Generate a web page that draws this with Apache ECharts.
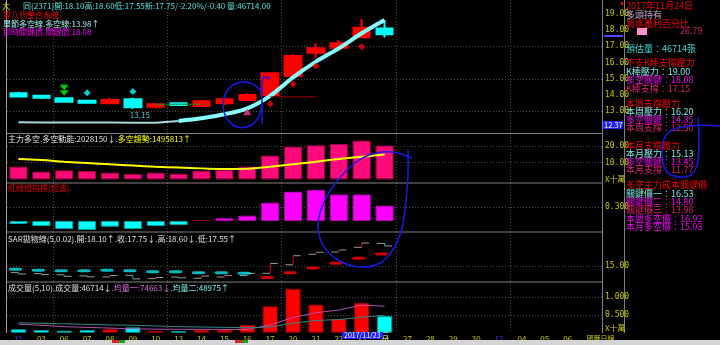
<!DOCTYPE html>
<html><head><meta charset="utf-8">
<script src="https://cdn.jsdelivr.net/npm/echarts@6/dist/echarts.min.js"></script>
<style>html,body{margin:0;padding:0;background:#000;}#c{width:720px;height:345px;}</style>
</head><body><div id="c"></div>
<script>
// ---------- data ----------
const categories = ['11','03','06','07','08','09','10','13','14','15','16','17','20','21','22','23','24','27','28','29','30','12','04','05','06','國曆日線'];
// [open, close, low, high]
const candles = [
 [14.10,13.90,13.90,14.20],
 [13.96,13.83,13.75,13.96],
 [13.80,13.59,13.59,13.86],
 [13.65,13.52,13.50,13.68],
 [13.49,13.69,13.49,13.83],
 [13.73,13.24,13.15,13.83],
 [13.28,13.43,13.18,13.43],
 [13.49,13.38,13.34,13.49],
 [13.32,13.61,13.32,13.69],
 [13.49,13.73,13.38,13.86],
 [13.69,14.00,13.63,14.10],
 [14.00,15.34,14.00,15.38],
 [15.17,16.41,15.05,16.53],
 [16.61,16.88,16.26,17.19],
 [16.92,17.19,16.73,17.40],
 [17.56,18.15,17.56,18.69],
 [18.10,17.75,17.55,18.60]
];
const trendLine = [12.31,12.30,12.30,12.30,12.30,12.29,12.29,12.40,12.56,12.81,13.18,13.95,15.09,16.06,16.88,17.81,18.63];
const keyRedLine = [null,null,null,null,null,null,null,null,null,null,null,13.88,13.88,13.88];
const keyGreenLine = [null,null,null,null,null,null,13.43,13.43,13.43];
const buySignal = [null,null,14.30];
const cyanMarks = [null,null,null,14.14,null,14.22];
const pinkMarks = [null,null,null,null,null,null,null,null,null,null,12.97];
const redMarks = [null,null,null,null,null,null,null,null,null,null,null,13.44,14.68,15.79,null,16.98];
const lowestPrice = 13.15, lowestIndex = 5;

const mainForce = [7.6,4.6,5.4,5.0,4.0,3.2,4.0,3.4,5.2,5.6,7.6,14.2,19.6,20.4,21.2,23.2,20.28];
const forceTrend = [12.2,11.6,10.6,9.8,9.0,8.3,7.6,7.1,6.6,6.2,6.4,7.6,9.0,10.6,12.2,13.6,14.96];
const trafficLight = [-0.066,-0.11,-0.175,-0.197,-0.125,-0.175,-0.11,-0.088,0.02,0.059,0.116,0.40,0.64,0.68,0.58,0.58,0.335];
const sar = [14.55,14.41,14.36,14.36,14.41,14.36,14.22,14.22,14.08,14.08,14.00,13.42,14.08,14.73,15.37,16.05,16.64];
const sarSide = ['s','s','s','s','s','s','s','s','s','s','s','l','l','l','l','l','l'];
const volume = [9600,7600,5600,7600,9600,15000,5600,4800,7600,7600,22000,74500,124000,79000,39000,84500,46714];
const volMA5 = [24000,21000,17000,15000,13000,11000,10000,9500,9500,9000,9000,22000,43000,56500,64000,78000,74663];
const volMA10 = [28000,26500,25000,23500,22000,21000,19000,17000,16000,15000,14000,16000,27000,34500,37000,44000,48975];

const priceTicks = [13,14,15,16,17,18,19];
const forceTicks = [10,20];
const lightTicks = [0.3];
const sarTicks = [15];
const volTicks = [50000,100000];

// ---------- chart ----------
const FONT = '"Noto Sans CJK TC","Noto Sans",sans-serif';
const AX = '#c8c800';
const chart = echarts.init(document.getElementById('c'));
const L = 7, W = 595;
const grids = [
  {left:L, width:W, top:0, height:133.5},
  {left:L, width:W, top:134, height:49},
  {left:L, width:W, top:183, height:49},
  {left:L, width:W, top:232, height:50},
  {left:L, width:W, top:282, height:50.7}
].map(g => Object.assign(g, {outerBoundsMode:'none', containLabel:false}));

const dotted = {show:true, lineStyle:{color:'#4a4a4a', type:[1,2], width:1}};
const xAxes = grids.map((g,i) => ({
  type:'category', gridIndex:i, data:categories, boundaryGap:true,
  axisLine:{show:false}, axisTick:{show:false},
  splitLine:{show:true, interval:(idx)=>idx%5===2, lineStyle:{color:'#4a4a4a', type:[1,2]}},
  axisLabel: i===4 ? {
    show:true, interval:0, margin:2, fontSize:8, fontFamily:FONT,
    color:(v)=> (v==='11'||v==='12') ? '#3838ff' : AX,
    formatter:(v)=> v==='國曆日線' ? '{e|'+v+'}' : v,
    rich:{e:{color:AX, fontSize:7, fontFamily:FONT, padding:[0,0,0,20]}}
  } : {show:false}
}));
function yax(i, min, max, ticks, fmt){
  return {type:'value', gridIndex:i, position:'right', min, max,
    axisLine:{show:false},
    axisTick:{show:false, customValues:ticks},
    axisLabel:{show:true, customValues:ticks, margin:3, color:AX, fontSize:8, fontFamily:'"DejaVu Sans Mono",monospace', formatter:fmt},
    splitLine:dotted};
}
const yAxes = [
  yax(0, 11.623, 19.864, priceTicks, v=>v.toFixed(2)),
  yax(1, -2.16, 27.19, forceTicks, v=>v.toFixed(2)),
  yax(2, -0.2407, 0.8315, lightTicks, v=>v.toFixed(3)),
  yax(3, 12.81, 19.66, sarTicks, v=>v.toFixed(2)),
  yax(4, 0, 143200, volTicks, v=>(v/100000).toFixed(3))
];
yAxes[0].axisTick.customValues = [13,15,17];

const up = candles.map(d => d[1] >= d[0]);

const series = [
  {type:'candlestick', xAxisIndex:0, yAxisIndex:0, data:candles, barWidth:17,
   itemStyle:{color:'#ff0000', color0:'#00ffff', borderColor:'#ff0000', borderColor0:'#00ffff', borderWidth:2},
   markPoint:{symbol:'circle', symbolSize:0, silent:true,
     data:[{coord:[lowestIndex, lowestPrice], value:lowestPrice}],
     label:{show:true, formatter:lowestPrice.toFixed(2), color:'#40c8c8', fontSize:8, fontFamily:FONT, offset:[7,6]}}},
  {type:'line', xAxisIndex:0, yAxisIndex:0, data:trendLine.map((v,i)=> i<=7 ? v : null), showSymbol:false,
   lineStyle:{color:'#a8d8d8', width:2}, silent:true, z:3},
  {type:'line', xAxisIndex:0, yAxisIndex:0, data:trendLine.map((v,i)=> i>=7 ? v : null), showSymbol:false, smooth:0.3,
   lineStyle:{color:'#88ffff', width:4}, silent:true, z:3},
  {type:'line', xAxisIndex:0, yAxisIndex:0, data:keyRedLine, showSymbol:false, lineStyle:{color:'#a00000', width:1}, silent:true},
  {type:'line', xAxisIndex:0, yAxisIndex:0, data:keyGreenLine, showSymbol:false, lineStyle:{color:'#208020', width:1}, silent:true},
  {type:'scatter', xAxisIndex:0, yAxisIndex:0, data:buySignal, symbol:'path://M0,0L10,0L5,5Z M0,5L10,5L5,10Z', symbolSize:[9,11], itemStyle:{color:'#00ff00'}, z:5},
  {type:'scatter', xAxisIndex:0, yAxisIndex:0, data:cyanMarks, symbol:'diamond', symbolSize:7, itemStyle:{color:'#00ffff'}, z:5},
  {type:'scatter', xAxisIndex:0, yAxisIndex:0, data:pinkMarks, symbol:'triangle', symbolSize:[8,7], itemStyle:{color:'#ff3399'}, z:5},
  {type:'scatter', xAxisIndex:0, yAxisIndex:0, data:redMarks, symbol:'diamond', symbolSize:7, itemStyle:{color:'#ff0000'}, z:5},

  {type:'bar', xAxisIndex:1, yAxisIndex:1, data:mainForce, barWidth:18, itemStyle:{color:'#ff0a7a', borderColor:'#a00048', borderWidth:1}},
  {type:'line', xAxisIndex:1, yAxisIndex:1, data:forceTrend, showSymbol:false, smooth:0.4, lineStyle:{color:'#ffff00', width:2}},

  {type:'bar', xAxisIndex:2, yAxisIndex:2, data:trafficLight.map(v=>({value:v, itemStyle:{color: v<0 ? '#00ffff' : (v<0.03 ? '#900000' : '#ff00ff'), borderColor: v<0 ? '#00a0a0' : (v<0.03 ? '#900000' : '#b000b0')}})), barWidth:18, itemStyle:{borderWidth:1}},

  {type:'custom', xAxisIndex:3, yAxisIndex:3, data:candles.map((d,i)=>[i,d[0],d[1]]),
   renderItem:function(params, api){
     const i = api.value(0), o = api.value(1), c = api.value(2);
     const po = api.coord([i,o]), pc = api.coord([i,c]);
     const w = api.size([1,0])[0]*0.33;
     const col = c >= o ? '#e00000' : '#00c8c8';
     return {type:'group', children:[
       {type:'line', shape:{x1:po[0]-w, y1:po[1], x2:po[0], y2:po[1]}, style:{stroke:'#9a9a9a', lineWidth:1}},
       {type:'line', shape:{x1:pc[0], y1:pc[1], x2:pc[0]+w, y2:pc[1]}, style:{stroke:'#9a9a9a', lineWidth:1}},
       {type:'line', shape:{x1:po[0], y1:po[1], x2:pc[0], y2:pc[1]}, style:{stroke:col, lineWidth:1}}
     ]};
   }},
  {type:'scatter', xAxisIndex:3, yAxisIndex:3, data:sar.map((v,i)=>({value:v, itemStyle:{color: sarSide[i]==='s' ? '#00e8f0' : '#ff0000'}})),
   symbol:'roundRect', symbolSize:[13,3], symbolOffset:[-3,0]},

  {type:'bar', xAxisIndex:4, yAxisIndex:4, data:volume.map((v,i)=>({value:v, itemStyle:{color: up[i] ? '#ff0000' : '#00ffff', borderColor: up[i] ? '#a00000' : '#00a0a0'}})), barWidth:15, itemStyle:{borderWidth:1}},
  {type:'line', xAxisIndex:4, yAxisIndex:4, data:volMA5, showSymbol:false, lineStyle:{color:'#b050b0', width:1}},
  {type:'line', xAxisIndex:4, yAxisIndex:4, data:volMA10, showSymbol:false, lineStyle:{color:'#308888', width:1}}
];

// ---------- text & decoration ----------
function T(x, y, text, fill, size, extra){
  return {type:'text', x, y, silent:true, z:100,
    style:Object.assign({text, fill, fontSize:size||8, fontFamily:FONT, verticalAlign:'middle', align:'left'}, extra||{})};
}
function R(x, y, w, h, fill, z){ return {type:'rect', silent:true, z:z||90, shape:{x,y,width:w,height:h}, style:{fill}}; }
function Ln(x1,y1,x2,y2,stroke,w,z){ return {type:'line', silent:true, z:z||90, shape:{x1,y1,x2,y2}, style:{stroke, lineWidth:w||1}}; }
function RichT(x, y, parts, size){
  const rich = {}; let s = '';
  parts.forEach((p,k)=>{ rich['p'+k] = {fill:p[1], fontSize:size||8, fontFamily:FONT}; s += '{p'+k+'|'+p[0]+'}'; });
  return {type:'text', x, y, silent:true, z:100, style:{text:s, rich, fontSize:size||8, fontFamily:FONT, verticalAlign:'middle', align:'left'}};
}
function PL(points, smooth){ return {type:'polyline', silent:true, z:120, shape:{points, smooth:smooth||0}, style:{stroke:'#1a1ae8', lineWidth:1.5, fill:null}}; }

const CY = '#7fe6e6', MG = '#f000f0', PK = '#e0206e', RD = '#f00000';
const graphics = [
  Ln(6.5,0,6.5,333,'#a0a0a0',1),
  Ln(602.5,0,602.5,333,'#808080',1),
  Ln(624.5,0,624.5,333,'#808080',1),
  Ln(7,133.5,602,133.5,'#808080',1),
  Ln(7,183,602,183,'#808080',1),
  Ln(7,232,602,232,'#808080',1),
  Ln(7,282,602,282,'#808080',1),
  R(0,340,720,5,'#d4d4d4'),
  R(112,340,7,3,'#e02020'), R(119,340,6,3,'#20a020'),
  R(235,340,7,3,'#e02020'), R(242,340,6,3,'#20a020'),
  T(2,6,'大','#e8e800'),
  T(23,6,'同(2371)開:18.10高:18.60低:17.55新:17.75/-2.20%/-0.40 量:46714.00','#5ce0e0'),
  T(3,15,'第八代整合系統.',RD),
  T(3,23.5,'單節多空線.多空線:13.98↑','#a8f0f0'),
  T(3,31.5,'即時關鍵價.關鍵價:18.08',MG),
  RichT(8,138.5,[['主力多空.多空動能:2028150↓','#e0e0e0'],['.多空趨勢:1495813↑','#ffff00']]),
  T(8,188,'紅綠燈指標(短波).',RD),
  T(8,239,'SAR拋物線(5,0.02).開:18.10↑.收:17.75↓.高:18.60↓.低:17.55↑','#e0e0e0'),
  RichT(8,287.5,[['成交量(5,10).成交量:46714↓','#e0e0e0'],['.均量一:74663↓','#e070e0'],['.均量二:48975↑','#80f0f0']]),
  T(605,179,'X十萬',AX,8),
  T(605,328,'X十萬',AX,8),
  Ln(604,36,623,36,'#4848ff',2),
  R(603,121,20,8,'#2020ff'),
  T(604,125,'12.37','#ffffff',7.5),
  R(342,332,41,7,'#2020ff',110),
  {type:'text', x:344, y:335.5, silent:true, z:111, style:{text:'2017/11/23 三', fill:'#ffffff', fontSize:7, fontFamily:FONT, verticalAlign:'middle'}},
  R(621,2,2,3,'#ff0000'),
  T(626,6,'2017年11月24日',RD,9),
  T(626,15,'多頭持有','#d0a8d0',9),
  T(626,24,'買進獲利百分比',RD,9),
  R(637,28,10,7,'#ff90c8',95),
  T(680,31,'26.79','#d02070',9),
  T(626,49,'預估量：46714張','#40d8d8',9),
  T(626,63,'下支K棒支撐壓力',RD,9),
  T(626,71.5,'K棒壓力：19.00',CY,9),
  T(626,80,'多空關鍵：18.08',MG,9),
  T(626,88.5,'K棒支撐：17.15',PK,9),
  T(626,104,'本週支撐壓力',RD,9),
  T(626,112,'本周壓力：16.20',CY,9),
  T(626,120,'多空關鍵：14.35',MG,9),
  T(626,128,'本周支撐：12.50',PK,9),
  T(626,145.5,'本月支撐壓力',RD,9),
  T(626,153.5,'本月壓力：15.13',CY,9),
  T(626,162,'多空關鍵：13.45',MG,9),
  T(626,170,'本月支撐：11.77',PK,9),
  T(626,185,'多空主力成本關鍵價',RD,9),
  T(626,193.5,'關鍵價一：16.53',CY,9),
  T(626,202,'關鍵價二：14.80',MG,9),
  T(626,210,'關鍵價三：13.98',PK,9),
  T(626,218.5,'本週多空價：16.92',MG,9),
  T(626,227,'本月多空價：15.93',MG,9),
  PL([[262,92],[250,83],[235,84],[225,95],[224,112],[233,125],[247,127],[258,118],[262,102]], 0.4),
  PL([[270,78],[263,77],[262,84],[262,124]], 0),
  PL([[412,158],[392,152],[372,154],[355,163],[338,180],[325,200],[318,225],[323,245],[338,260],[360,267],[380,263],[394,248],[402,228],[406,200],[408,175],[408,150]], 0.4),
  PL([[698,117],[698,160],[692,174],[680,177],[667,172],[662,152],[668,133],[690,126],[720,126]], 0.4)
];

chart.setOption({
  backgroundColor:'#000000',
  animation:false,
  textStyle:{fontFamily:FONT},
  grid:grids, xAxis:xAxes, yAxis:yAxes, series, graphic:graphics
});
</script></body></html>
